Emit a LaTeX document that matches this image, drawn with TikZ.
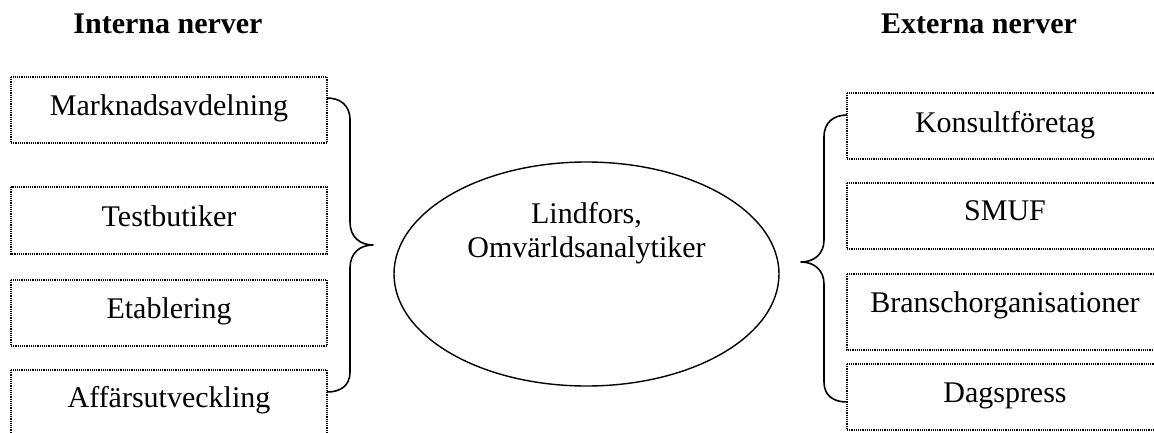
\documentclass[tikz,border=0pt]{standalone}
\usepackage{fontspec}
\setmainfont{Liberation Serif}
\usetikzlibrary{calc}
\begin{document}
\begin{tikzpicture}[x=1pt,y=-1pt,
  dotbox/.style={draw,line width=1.2pt,dash pattern=on 1.2pt off 1pt},
  label/.style={anchor=base,inner sep=0pt,font=\fontsize{30}{36}\selectfont},
  head/.style={anchor=base,inner sep=0pt,font=\fontsize{30}{36}\selectfont\bfseries},
  brace/.style={draw,line width=1.6pt,line join=round}]
\useasboundingbox (0,0) rectangle (1154,432);
\clip (0,0) rectangle (1154,432);

% headings
\node[head] (hin) at (168,33) {Interna nerver};
\node[head] (hex) at (979,33) {Externa nerver};

% internal sources (left column)
\draw[dotbox] (11,77) rectangle (327,143);
\draw[dotbox] (11,187) rectangle (327,254);
\draw[dotbox] (11,280) rectangle (327,346);
\draw[dotbox] (11,370) rectangle (327,436);
\node[label] (i1) at (169,115) {Marknadsavdelning};
\node[label] (i2) at (169,226) {Testbutiker};
\node[label] (i3) at (169,318) {Etablering};
\node[label] (i4) at (169,407) {Affärsutveckling};

% external sources (right column)
\draw[dotbox] (847,93) rectangle (1162,159);
\draw[dotbox] (847,183) rectangle (1162,249);
\draw[dotbox] (847,274) rectangle (1162,350);
\draw[dotbox] (847,364) rectangle (1162,430);
\node[label] (e1) at (1005,132) {Konsultföretag};
\node[label] (e2) at (1005,220) {SMUF};
\node[label] (e3) at (1005,312) {Branschorganisationer};
\node[label] (e4) at (1005,402) {Dagspress};

% central actor
\draw[line width=1.4pt] (586.5,274) ellipse [x radius=192.5, y radius=112];
\node[label] (c1) at (586.5,223) {Lindfors,};
\node[label] (c2) at (586.5,257) {Omvärldsanalytiker};

% brace ends and tips
\coordinate (lt) at (327,98);
\coordinate (lp) at (373,245);
\coordinate (lb) at (327,392);
\coordinate (rt) at (847,115);
\coordinate (rp) at (801,262);
\coordinate (rb) at (847,402);

% left brace
\draw[brace] (lt) .. controls (340,98) and (350,105) .. (350,120)
  -- (350,222) .. controls (350,237) and (360,245) .. (lp)
  .. controls (360,245) and (350,253) .. (350,268)
  -- (350,372) .. controls (350,386) and (340,392) .. (lb);

% right brace
\draw[brace] (rt) .. controls (834,115) and (824,122) .. (824,137)
  -- (824,240) .. controls (824,254) and (814,262) .. (rp)
  .. controls (814,262) and (824,270) .. (824,284)
  -- (824,382) .. controls (824,396) and (834,402) .. (rb);
\end{tikzpicture}
\end{document}
